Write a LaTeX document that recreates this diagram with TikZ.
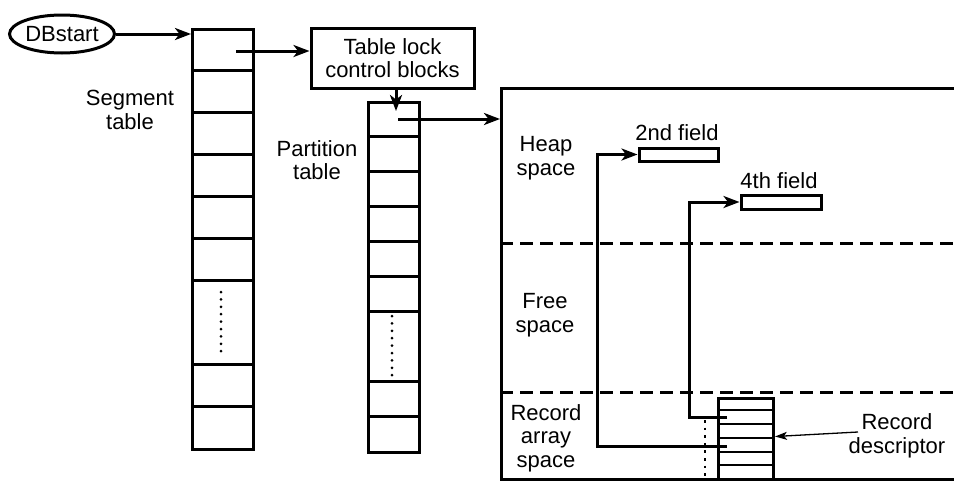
\documentclass[tikz,border=0pt]{standalone}
\usepackage{fontspec}
\setmainfont{Liberation Sans}
\usetikzlibrary{arrows.meta,shapes.geometric,calc}
\begin{document}
\begin{tikzpicture}[x=1pt,y=-1pt,
  every node/.style={font=\fontsize{22}{23.5}\selectfont},
  thick line/.style={line width=3pt},
  boxshape/.style={draw,thick line,rectangle,inner sep=0pt,anchor=north west},
  lbl/.style={align=center,inner sep=0pt},
  arr/.style={line width=3pt,-{Stealth[length=16pt,width=12pt,inset=4.5pt]}},
  tarr/.style={line width=1.3pt,-{Stealth[length=12pt,width=8pt,inset=3pt]}},
  divider/.style={line width=3pt},
  dashline/.style={line width=3pt,dash pattern=on 13pt off 7pt},
  dotline/.style={line width=2.6pt,dash pattern=on 2.6pt off 5pt}]
\clip (0,0) rectangle (954,480);
\fill[white] (0,0) rectangle (954,480);

% DBstart
\node[draw,thick line,ellipse,minimum width=105pt,minimum height=38pt,inner sep=0pt] (db) at (62,34) {DBstart};

% Segment table
\node[boxshape,minimum width=61pt,minimum height=420pt] (seg) at (191,28) {};
\foreach \yy in {70,112,154,196,238,280,364,406}
  \draw[divider] (seg.west |- 0,\yy) -- (seg.east |- 0,\yy);
\foreach \i in {0,...,8}
  \fill (221,292+\i*7.4) circle (1.5pt);
\node[lbl] (seglab) at (130,110) {Segment\\table};

% Table lock control blocks
\node[draw,thick line,rectangle,minimum width=163pt,minimum height=60pt,inner sep=0pt,align=center] (lock) at (392.5,58) {Table lock\\control blocks};

% Partition table
\node[boxshape,minimum width=51pt,minimum height=350pt] (part) at (367,101) {};
\foreach \yy in {136,171,206,241,276,311,381,416}
  \draw[divider] (part.west |- 0,\yy) -- (part.east |- 0,\yy);
\foreach \i in {0,...,8}
  \fill (392,316+\i*7.4) circle (1.5pt);
\node[lbl] (partlab) at (317,160) {Partition\\table};

% Memory area
\node[boxshape,minimum width=500pt,minimum height=391pt] (mem) at (500,87) {};
\coordinate (d1) at (500,243);
\coordinate (d2) at (500,392);
\draw[dashline] (d1) -- (d1 -| mem.east);
\draw[dashline] (d2) -- (d2 -| mem.east);
\node[lbl] (heap) at (546,158) {Heap\\space};
\node[lbl] (free) at (545,315) {Free\\space};
\node[lbl] (recarr) at (546,438) {Record\\array\\space};

% fields
\node[draw,thick line,rectangle,minimum width=79pt,minimum height=13pt,inner sep=0pt] (f2) at (678.5,154.5) {};
\node[lbl] (f2lab) at (677,133) {2nd field};
\node[draw,thick line,rectangle,minimum width=80pt,minimum height=14pt,inner sep=0pt] (f4) at (781,202) {};
\node[lbl] (f4lab) at (779,181) {4th field};

% record array
\node[boxshape,minimum width=55pt,minimum height=81pt] (rec) at (717,397) {};
\foreach \yy in {410,424,438,452,465}
  \draw[line width=2.6pt] (rec.west |- 0,\yy) -- (rec.east |- 0,\yy);
\coordinate (dt) at (705,420);
\coordinate (db2) at (705,478);
\draw[dotline] (dt) -- (db2);

\node[lbl] (rd) at (897,436) {Record\\descriptor};

% connectors
\draw[arr] (db.east) -- (db.east -| seg.west);
\coordinate (s1) at (236,51);
\draw[arr] (s1) -- (s1 -| lock.west);
\coordinate (p1) at (396,111);
\draw[arr] (p1 |- lock.south) -- (p1);
\coordinate (p2) at (398,119);
\draw[arr] (p2) -- (p2 -| mem.west);

\coordinate (r2) at (727,417);
\coordinate (v4) at (689,0);
\draw[arr] (r2) -- (r2 -| v4) -- (v4 |- f4.west) -- (f4.west);
\coordinate (r4) at (727,446);
\coordinate (v2) at (597,0);
\draw[arr] (r4) -- (r4 -| v2) -- (v2 |- f2.west) -- (f2.west);

\coordinate (rdtail) at (858,432);
\draw[tarr] (rdtail) -- ($(rec.east)+(0,-2.5)$);
\end{tikzpicture}
\end{document}
